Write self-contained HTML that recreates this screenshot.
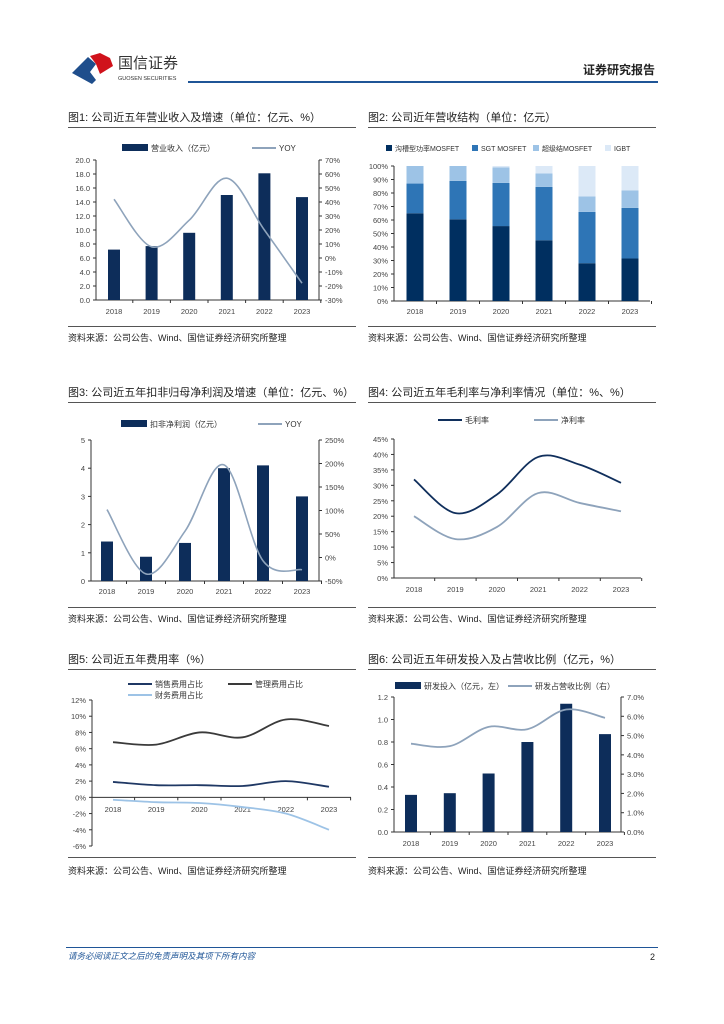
<!DOCTYPE html>
<html><head><meta charset="utf-8">
<style>
html,body{margin:0;padding:0;background:#fff;}
svg{display:block;font-family:"Liberation Sans","Noto Sans CJK SC",sans-serif;}
</style></head>
<body>
<svg id="pg" width="724" height="1024" viewBox="0 0 724 1024" xmlns="http://www.w3.org/2000/svg">
 <g>
  <path d="M72 73 L88 57 L96 64 L90 72 L96 80 L92 84 Z" fill="#1f4e8c"/>
  <path d="M90 56 L100 53 L110 58 L113 66 L100 74 L96 64 Z" fill="#d0121b"/>
  <text x="118" y="68" font-size="15" fill="#333">国信证券</text>
  <text x="118" y="80" font-size="5.5" fill="#333">GUOSEN SECURITIES</text>
  <rect x="188" y="81" width="470" height="2" fill="#1f5597"/>
  <text x="655" y="74" font-size="12" font-weight="bold" text-anchor="end" fill="#222">证券研究报告</text>
 </g>
 <g id="charts"></g>
 <g>
  <rect x="66" y="947" width="592" height="1" fill="#1f5597"/>
  <text x="68" y="959" font-size="8.5" font-style="italic" fill="#1f5597">请务必阅读正文之后的免责声明及其项下所有内容</text>
  <text x="655" y="960" font-size="9" text-anchor="end" fill="#222">2</text>
 </g>
</svg>
<script>
const years = ["2018","2019","2020","2021","2022","2023"];
// chart1
const revenue = [7.2, 7.7, 9.6, 15.0, 18.1, 14.7];
const revenueYoy = [42, 8, 27, 57, 20, -18];
const c1Left = ["0.0","2.0","4.0","6.0","8.0","10.0","12.0","14.0","16.0","18.0","20.0"];
const c1Right = ["-30%","-20%","-10%","0%","10%","20%","30%","40%","50%","60%","70%"];
// chart2
const trench = [65, 60.5, 55.5, 45, 28, 31.5];
const sgt = [22, 28.5, 32, 39.5, 38, 37.5];
const superJ = [13, 11, 11.5, 10, 11.5, 13];
const igbt = [0, 0, 1, 5.5, 22.5, 18];
const c2Ticks = ["0%","10%","20%","30%","40%","50%","60%","70%","80%","90%","100%"];
// chart3
const profit = [1.4, 0.86, 1.35, 4.0, 4.1, 3.0];
const profitYoy = [102, -35, 56, 197, -7, -26];
const c3Left = ["0","1","2","3","4","5"];
const c3Right = ["-50%","0%","50%","100%","150%","200%","250%"];
// chart4
const grossMargin = [31.9, 21, 27, 39.2, 36.7, 30.8];
const netMargin = [20, 12.6, 16.5, 27.5, 24.3, 21.6];
const c4Ticks = ["0%","5%","10%","15%","20%","25%","30%","35%","40%","45%"];
// chart5
const salesRate = [1.9, 1.5, 1.5, 1.4, 2.0, 1.3];
const mgmtRate = [6.8, 6.5, 8.0, 7.4, 9.6, 8.8];
const finRate = [-0.3, -0.6, -0.7, -1.2, -2.0, -4.0];
const c5Ticks = ["-6%","-4%","-2%","0%","2%","4%","6%","8%","10%","12%"];
// chart6
const rdSpend = [0.33, 0.345, 0.52, 0.80, 1.14, 0.87];
const rdRatio = [4.58, 4.45, 5.45, 5.33, 6.35, 5.92];
const c6Left = ["0.0","0.2","0.4","0.6","0.8","1.0","1.2"];
const c6Right = ["0.0%","1.0%","2.0%","3.0%","4.0%","5.0%","6.0%","7.0%"];

const NS="http://www.w3.org/2000/svg";
const root=document.getElementById('charts');
function el(tag,attrs,parent,txt){const e=document.createElementNS(NS,tag);for(const k in attrs)e.setAttribute(k,attrs[k]);if(txt!==undefined)e.textContent=txt;(parent||root).appendChild(e);return e;}
function lin(d0,d1,r0,r1){return v=>r0+(v-d0)*(r1-r0)/(d1-d0);}
function smooth(pts){let d=`M${pts[0][0]},${pts[0][1]}`;for(let i=0;i<pts.length-1;i++){const p0=pts[i-1]||pts[i],p1=pts[i],p2=pts[i+1],p3=pts[i+2]||p2;const c1x=p1[0]+(p2[0]-p0[0])/6,c1y=p1[1]+(p2[1]-p0[1])/6,c2x=p2[0]-(p3[0]-p1[0])/6,c2y=p2[1]-(p3[1]-p1[1])/6;d+=` C${c1x},${c1y} ${c2x},${c2y} ${p2[0]},${p2[1]}`;}return d;}
function frame(g,x,yTitle,title,yLine,ySrc){
  const t=el('text',{x:x,y:yTitle,'font-size':11,fill:'#222'},g,title);
  
  const r=el('rect',{x:x,y:yTitle+6,width:288,height:1,fill:'#555'},g);
  
  const r2=el('rect',{x:x,y:yLine,width:288,height:1,fill:'#555'},g);
  
  if(ySrc){const s=el('text',{x:x,y:ySrc,'font-size':9,fill:'#222'},g,'资料来源：公司公告、Wind、国信证券经济研究所整理');
  }
}
function yAxis(g,x,ys,labels,side,color){
  const l=el('line',{x1:x,x2:x,y1:Math.min(...ys),y2:Math.max(...ys),stroke:'#333','stroke-width':1},g);
  
  labels.forEach((lb,i)=>{
    el('line',{x1:side==='l'?x-3:x,x2:side==='l'?x:x+3,y1:ys[i],y2:ys[i],stroke:'#333'},g);
    const t=el('text',{x:side==='l'?x-6:x+6,y:ys[i]+3,'font-size':7.5,fill:color||'#444','text-anchor':side==='l'?'end':'start'},g,lb);
    
  });
}
function xAxis(g,x0,x1,y,xs,labY,step){
  const l=el('line',{x1:x0,x2:x1,y1:y,y2:y,stroke:'#333'},g);
  
  xs.forEach((cx,i)=>{
    el('line',{x1:cx+step/2,x2:cx+step/2,y1:y,y2:y+3,stroke:'#333'},g);
    const t=el('text',{x:cx,y:labY,'font-size':7.5,'text-anchor':'middle',fill:'#444'},g,years[i]);
    
  });
}
function legendBar(g,x,y,color,label,w){el('rect',{x:x,y:y-4,width:w||24,height:7,fill:color},g);const t=el('text',{x:x+(w||24)+3,y:y+3,'font-size':8,fill:'#333'},g,label);}
function legendLine(g,x,y,color,label,w){el('line',{x1:x,x2:x+(w||24),y1:y,y2:y,stroke:color,'stroke-width':2},g);const t=el('text',{x:x+(w||24)+3,y:y+3,'font-size':8,fill:'#333'},g,label);}
const NAVY='#0d2d5a', GREYLINE='#8ea3bb';

// ---------- Chart 1
(function(){
 const g=el('g',{});
 frame(g,68,121,'图1: 公司近五年营业收入及增速（单位：亿元、%）',326,341);
 const yL=lin(0,20,300,160), yR=lin(-30,70,300,160), xs=years.map((_,i)=>114+i*37.6);
 yAxis(g,96,c1Left.map((_,i)=>yL(i*2)),c1Left,'l');
 yAxis(g,319,c1Right.map((_,i)=>yR(-30+i*10)),c1Right,'r');
 xAxis(g,96,319,300,xs,314,37.6);
 revenue.forEach((v,i)=>{const b=el('rect',{x:xs[i]-6,y:yL(v),width:12,height:300-yL(v),fill:NAVY},g);});
 const p=el('path',{d:smooth(revenueYoy.map((v,i)=>[xs[i],yR(v)])),fill:'none',stroke:GREYLINE,'stroke-width':1.6},g);
 
 legendBar(g,122,148,NAVY,'营业收入（亿元）',26);legendLine(g,252,148,GREYLINE,'YOY',24);
})();

// ---------- Chart 2
(function(){
 const g=el('g',{});
 frame(g,368,121,'图2: 公司近年营收结构（单位：亿元）',326,341);
 const y=lin(0,100,301,166), xs=years.map((_,i)=>415+i*43);
 yAxis(g,394,c2Ticks.map((_,i)=>y(i*10)),c2Ticks,'l');
 xAxis(g,394,650,301,xs,314,43);
 const series=[[trench,'#002f60','trench'],[sgt,'#2e75b6','sgt'],[superJ,'#9dc3e6','superjunction'],[igbt,'#dce9f7','igbt']];
 years.forEach((yr,i)=>{let acc=0;series.forEach(s=>{const v=s[0][i];const b=el('rect',{x:xs[i]-8.5,y:y(acc+v),width:17,height:y(acc)-y(acc+v),fill:s[1]},g);acc+=v;});});
 const labs=['沟槽型功率MOSFET','SGT MOSFET','超级结MOSFET','IGBT'];
 [386,472,533,605].forEach((lx,i)=>{el('rect',{x:lx,y:145,width:6,height:6,fill:series[i][1]},g);const t=el('text',{x:lx+9,y:151,'font-size':7,fill:'#333'},g,labs[i]);});
})();

// ---------- Chart 3
(function(){
 const g=el('g',{});
 frame(g,68,396,'图3: 公司近五年扣非归母净利润及增速（单位：亿元、%）',607,622);
 const yL=lin(0,5,581,440), yR=lin(-50,250,581,440), xs=years.map((_,i)=>107+i*39);
 yAxis(g,91,c3Left.map((_,i)=>yL(i)),c3Left,'l');
 yAxis(g,319,c3Right.map((_,i)=>yR(-50+i*50)),c3Right,'r');
 xAxis(g,91,319,581,xs,594,39);
 profit.forEach((v,i)=>{const b=el('rect',{x:xs[i]-6,y:yL(v),width:12,height:581-yL(v),fill:NAVY},g);});
 const p=el('path',{d:smooth(profitYoy.map((v,i)=>[xs[i],yR(v)])),fill:'none',stroke:GREYLINE,'stroke-width':1.6},g);
 
 legendBar(g,121,424,NAVY,'扣非净利润（亿元）',26);legendLine(g,258,424,GREYLINE,'YOY',24);
})();

// ---------- Chart 4
(function(){
 const g=el('g',{});
 frame(g,368,396,'图4: 公司近五年毛利率与净利率情况（单位：%、%）',607,622);
 const y=lin(0,45,578,439), xs=years.map((_,i)=>414+i*41.4);
 yAxis(g,394,c4Ticks.map((_,i)=>y(i*5)),c4Ticks,'l');
 xAxis(g,394,641,578,xs,592,41.4);
 const p1=el('path',{d:smooth(grossMargin.map((v,i)=>[xs[i],y(v)])),fill:'none',stroke:'#102f5c','stroke-width':1.8},g);
 
 const p2=el('path',{d:smooth(netMargin.map((v,i)=>[xs[i],y(v)])),fill:'none',stroke:'#8ea3bb','stroke-width':1.8},g);
 
 legendLine(g,438,420,'#102f5c','毛利率',24);legendLine(g,534,420,'#8ea3bb','净利率',24);
})();

// ---------- Chart 5
(function(){
 const g=el('g',{});
 frame(g,68,663,'图5: 公司近五年费用率（%）',857,874);
 const y=lin(-6,12,846,700), xs=years.map((_,i)=>113+i*43.2);
 yAxis(g,92,c5Ticks.map((_,i)=>y(-6+i*2)),c5Ticks,'l');
 xAxis(g,92,351,y(0),xs,812,43.2);
 [[salesRate,'#1f3864','sales'],[mgmtRate,'#3a3a3a','management'],[finRate,'#9dc3e6','finance']].forEach(s=>{
  const p=el('path',{d:smooth(s[0].map((v,i)=>[xs[i],y(v)])),fill:'none',stroke:s[1],'stroke-width':1.8},g);
  });
 legendLine(g,128,684,'#1f3864','销售费用占比',24);legendLine(g,228,684,'#3a3a3a','管理费用占比',24);legendLine(g,128,695,'#9dc3e6','财务费用占比',24);
})();

// ---------- Chart 6
(function(){
 const g=el('g',{});
 frame(g,368,663,'图6: 公司近五年研发投入及占营收比例（亿元，%）',857,874);
 const yL=lin(0,1.2,832,697), yR=lin(0,7,832,697), xs=years.map((_,i)=>411+i*38.8);
 yAxis(g,394,c6Left.map((_,i)=>yL(i*0.2)),c6Left,'l');
 yAxis(g,621,c6Right.map((_,i)=>yR(i)),c6Right,'r');
 xAxis(g,394,621,832,xs,846,38.8);
 rdSpend.forEach((v,i)=>{const b=el('rect',{x:xs[i]-6,y:yL(v),width:12,height:832-yL(v),fill:NAVY},g);});
 const p=el('path',{d:smooth(rdRatio.map((v,i)=>[xs[i],yR(v)])),fill:'none',stroke:GREYLINE,'stroke-width':1.8},g);
 
 legendBar(g,395,686,NAVY,'研发投入（亿元，左）',26);legendLine(g,508,686,GREYLINE,'研发占营收比例（右）',24);
})();
</script>
</body></html>
